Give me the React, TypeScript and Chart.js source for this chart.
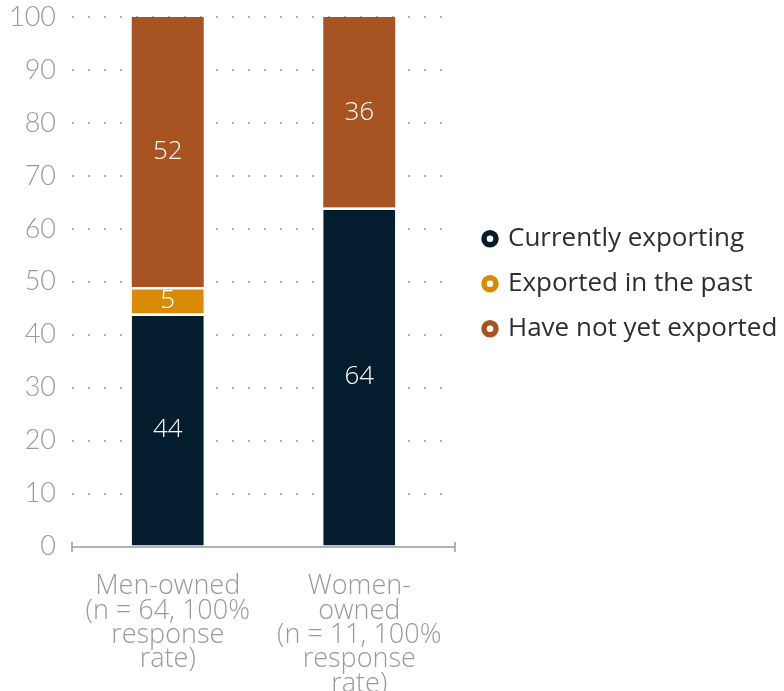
import React, { useEffect, useRef } from "react";
import { Chart, registerables } from "chart.js";

Chart.register(...registerables);

const categories: string[][] = [
  ["Men-owned", "(n = 64, 100%", "response", "rate)"],
  ["Women-", "owned", "(n = 11, 100%", "response", "rate)"],
];
const seriesNames = ["Currently exporting", "Exported in the past", "Have not yet exported"];
const currentlyExporting = [44, 64];
const exportedPast = [5, null];
const notYetExported = [52, 36];
const yTicks = [0, 10, 20, 30, 40, 50, 60, 70, 80, 90, 100];

const COLORS = ["#031d2e", "#d98a07", "#a85422"];
const FONT = "Lato, 'Open Sans', sans-serif";
const WIDE = "'Open Sans', Lato, sans-serif";

const valueLabels = {
  id: "valueLabels",
  afterDatasetsDraw(chart: any) {
    const ctx = chart.ctx;
    const area = chart.chartArea;
    ctx.save();
    ctx.fillStyle = "#ffffff";
    ctx.font = `300 26px ${WIDE}`;
    ctx.textAlign = "center";
    ctx.textBaseline = "middle";
    chart.data.datasets.forEach((ds: any, di: number) => {
      const meta = chart.getDatasetMeta(di);
      meta.data.forEach((el: any, i: number) => {
        const v = ds.data[i];
        if (v == null) return;
        const top = Math.max(el.y, area.top);
        const y = (top + el.base) / 2;
        ctx.fillText(String(v), el.x, y);
      });
    });
    ctx.restore();
  },
};

const axisTicks = {
  id: "axisTicks",
  afterDraw(chart: any) {
    const ctx = chart.ctx;
    const a = chart.chartArea;
    ctx.save();
    ctx.strokeStyle = "#9a9a9a";
    ctx.lineWidth = 1.5;
    ctx.beginPath();
    ctx.moveTo(a.left, a.bottom + 0.5);
    ctx.lineTo(a.right, a.bottom + 0.5);
    [a.left, a.right].forEach((x: number) => {
      ctx.moveTo(x, a.bottom - 4.5);
      ctx.lineTo(x, a.bottom + 5.5);
    });
    ctx.stroke();
    ctx.restore();
  },
};

const sideLegend = {
  id: "sideLegend",
  afterDraw(chart: any) {
    const ctx = chart.ctx;
    const a = chart.chartArea;
    const cy = (a.top + a.bottom) / 2 + 2;
    const cx = a.right + 35;
    ctx.save();
    ctx.font = `400 26px ${WIDE}`;
    ctx.textBaseline = "middle";
    ctx.textAlign = "left";
    chart.data.datasets.forEach((ds: any, i: number) => {
      const y = cy + (i - 1) * 45;
      ctx.beginPath();
      ctx.arc(cx, y, 6, 0, Math.PI * 2);
      ctx.fillStyle = "#ffffff";
      ctx.fill();
      ctx.lineWidth = 5.5;
      ctx.strokeStyle = ds.backgroundColor;
      ctx.stroke();
      ctx.fillStyle = "#2e2e2e";
      ctx.fillText(ds.label, cx + 18, y);
    });
    ctx.restore();
  },
};

export default function App() {
  const ref = useRef<HTMLCanvasElement | null>(null);
  useEffect(() => {
    document.body.style.margin = "0";
    const canvas = ref.current!;
    const seriesData = [currentlyExporting, exportedPast, notYetExported];
    const chart = new Chart(canvas, {
      type: "bar",
      data: {
        labels: categories,
        datasets: seriesNames.map((name, i) => ({
          label: name,
          data: seriesData[i] as any,
          backgroundColor: COLORS[i],
          borderColor: "#ffffff",
          borderWidth: i === 2 ? 0 : { top: 2.5, left: 0, right: 0, bottom: 0 },
          borderSkipped: false,
          barPercentage: 0.376,
          categoryPercentage: 1,
        })),
      },
      options: {
        animation: false,
        responsive: true,
        maintainAspectRatio: false,
        layout: { padding: { top: 0, left: 0, right: 329, bottom: -25 } },
        plugins: {
          tooltip: { enabled: false },
          legend: { display: false },
        },
        scales: {
          x: {
            stacked: true,
            grid: { display: false },
            border: { display: false },
            ticks: {
              color: "#9a9a9a",
              font: { family: WIDE, size: 27, weight: "300" as any, lineHeight: 0.9 },
              maxRotation: 0,
              autoSkip: false,
              padding: 20,
            },
          },
          y: {
            stacked: true,
            min: 0,
            max: 100,
            afterBuildTicks: (scale: any) => {
              scale.ticks = yTicks.map((v) => ({ value: v }));
            },
            afterFit: (scale: any) => {
              scale.width = 72;
              scale.paddingTop = 17;
            },
            grid: {
              drawTicks: false,
              lineWidth: 2,
              color: (c: any) => (c.index === 0 ? "rgba(0,0,0,0)" : "#b0b0b0"),
            },
            border: { display: false, dash: [2, 14] },
            ticks: {
              color: "#9a9a9a",
              font: { family: FONT, size: 27, weight: "300" as any },
              padding: 16,
            },
          },
        },
      },
      plugins: [valueLabels, axisTicks, sideLegend],
    });
    return () => chart.destroy();
  }, []);
  return (
    <div style={{ width: 784, height: 691, position: "relative" }}>
      <canvas ref={ref} />
    </div>
  );
}
